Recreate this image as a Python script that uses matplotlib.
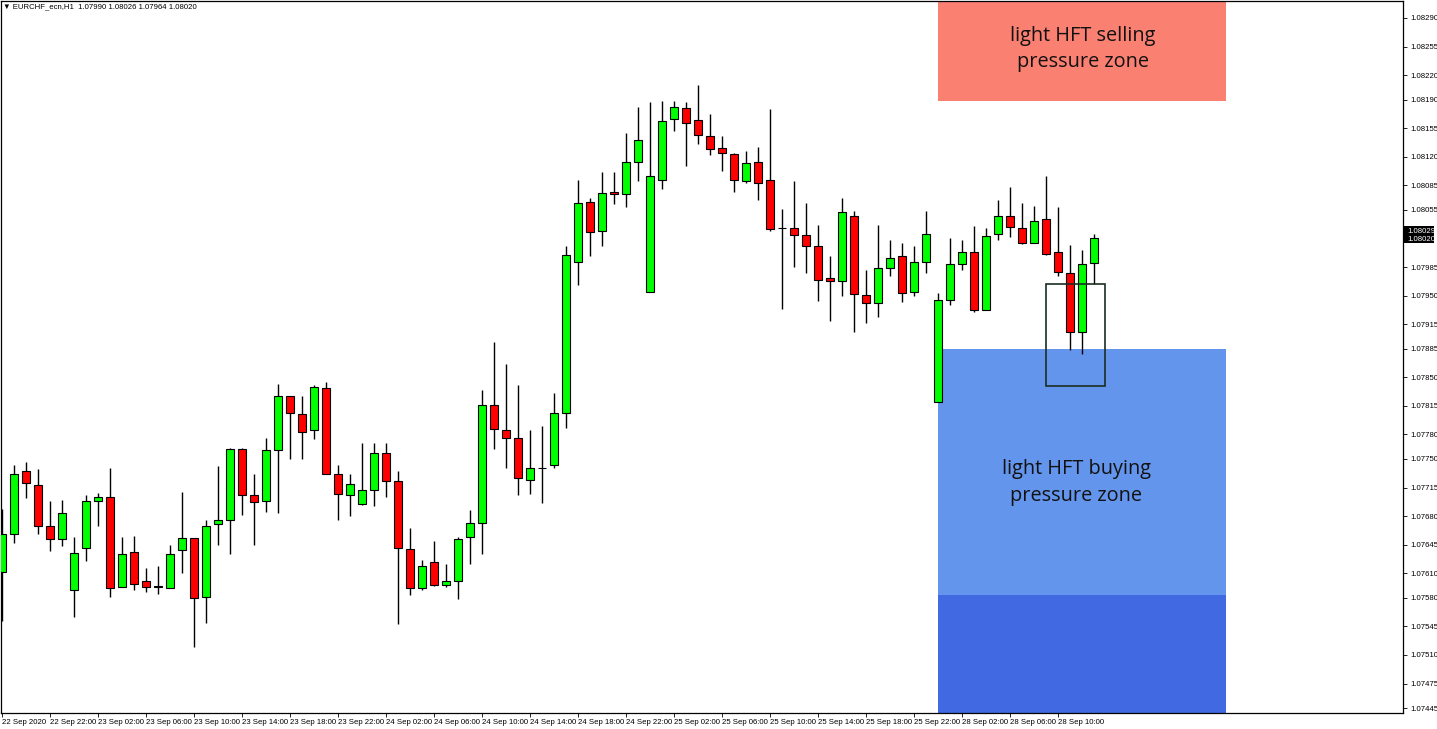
import matplotlib
matplotlib.use("Agg")
import matplotlib.pyplot as plt
import matplotlib.transforms as mtrans
from matplotlib.patches import Rectangle

plt.rcParams['font.family'] = ['Liberation Sans', 'DejaVu Sans']

# EURCHF H1 candles, 22 Sep 18:00 -> 28 Sep 13:00
opens = [1.07611, 1.07658, 1.07735, 1.07718, 1.07668, 1.07652, 1.07590, 1.07641, 1.07699, 1.07703,
         1.07593, 1.07636, 1.07600, 1.07593, 1.07592, 1.07639, 1.07653, 1.07581, 1.07670, 1.07675,
         1.07762, 1.07706, 1.07699, 1.07761, 1.07827, 1.07805, 1.07786, 1.07837, 1.07732, 1.07706,
         1.07695, 1.07712, 1.07757, 1.07723, 1.07640, 1.07592, 1.07624, 1.07596, 1.07601, 1.07655,
         1.07672, 1.07816, 1.07786, 1.07776, 1.07724, 1.07739, 1.07743, 1.07806, 1.07991, 1.08065,
         1.08029, 1.08077, 1.08074, 1.08114, 1.07954, 1.08092, 1.08166, 1.08180, 1.08165, 1.08145,
         1.08131, 1.08124, 1.08090, 1.08114, 1.08091, 1.08033, 1.08033, 1.08024, 1.08011, 1.07971,
         1.07968, 1.08048, 1.07951, 1.07941, 1.07984, 1.07998, 1.07954, 1.07991, 1.07820, 1.07945,
         1.07989, 1.08004, 1.07933, 1.08025, 1.08048, 1.08033, 1.08014, 1.08044, 1.08003, 1.07978,
         1.07905, 1.07990]
highs = [1.07689, 1.07743, 1.07746, 1.07738, 1.07699, 1.07700, 1.07655, 1.07706, 1.07708, 1.07739,
         1.07655, 1.07656, 1.07616, 1.07619, 1.07645, 1.07709, 1.07653, 1.07675, 1.07741, 1.07764,
         1.07764, 1.07731, 1.07776, 1.07842, 1.07827, 1.07827, 1.07840, 1.07844, 1.07742, 1.07731,
         1.07769, 1.07770, 1.07770, 1.07735, 1.07666, 1.07626, 1.07649, 1.07621, 1.07655, 1.07688,
         1.07835, 1.07893, 1.07866, 1.07840, 1.07785, 1.07790, 1.07831, 1.08011, 1.08092, 1.08070,
         1.08101, 1.08101, 1.08149, 1.08181, 1.08187, 1.08188, 1.08188, 1.08187, 1.08208, 1.08173,
         1.08145, 1.08125, 1.08127, 1.08132, 1.08179, 1.08056, 1.08090, 1.08063, 1.08037, 1.07998,
         1.08069, 1.08054, 1.07982, 1.08037, 1.08018, 1.08015, 1.08011, 1.08054, 1.07953, 1.08020,
         1.08018, 1.08035, 1.08033, 1.08067, 1.08083, 1.08063, 1.08060, 1.08096, 1.08058, 1.08012,
         1.08006, 1.08026]
lows = [1.07551, 1.07647, 1.07702, 1.07658, 1.07637, 1.07644, 1.07556, 1.07625, 1.07668, 1.07581,
        1.07593, 1.07590, 1.07587, 1.07585, 1.07592, 1.07610, 1.07520, 1.07549, 1.07645, 1.07633,
        1.07681, 1.07645, 1.07685, 1.07684, 1.07750, 1.07750, 1.07774, 1.07732, 1.07675, 1.07680,
        1.07694, 1.07693, 1.07704, 1.07548, 1.07584, 1.07590, 1.07595, 1.07593, 1.07578, 1.07621,
        1.07634, 1.07762, 1.07739, 1.07706, 1.07707, 1.07696, 1.07739, 1.07788, 1.07963, 1.07998,
        1.08011, 1.08062, 1.08059, 1.08090, 1.07954, 1.08081, 1.08152, 1.08109, 1.08136, 1.08122,
        1.08103, 1.08077, 1.08088, 1.08067, 1.08029, 1.07934, 1.07985, 1.07978, 1.07944, 1.07919,
        1.07949, 1.07906, 1.07916, 1.07924, 1.07974, 1.07942, 1.07949, 1.07978, 1.07820, 1.07938,
        1.07981, 1.07930, 1.07933, 1.08018, 1.08022, 1.08013, 1.08014, 1.08000, 1.07974, 1.07884,
        1.07879, 1.07964]
closes = [1.07658, 1.07732, 1.07721, 1.07668, 1.07652, 1.07684, 1.07635, 1.07699, 1.07704, 1.07592,
          1.07634, 1.07597, 1.07593, 1.07594, 1.07634, 1.07653, 1.07580, 1.07668, 1.07675, 1.07762,
          1.07706, 1.07697, 1.07761, 1.07827, 1.07806, 1.07783, 1.07838, 1.07732, 1.07707, 1.07719,
          1.07712, 1.07757, 1.07723, 1.07641, 1.07592, 1.07619, 1.07596, 1.07601, 1.07652, 1.07672,
          1.07816, 1.07787, 1.07776, 1.07727, 1.07739, 1.07739, 1.07806, 1.08000, 1.08063, 1.08028,
          1.08076, 1.08074, 1.08114, 1.08141, 1.08097, 1.08164, 1.08181, 1.08162, 1.08147, 1.08130,
          1.08125, 1.08092, 1.08112, 1.08088, 1.08032, 1.08033, 1.08024, 1.08011, 1.07969, 1.07968,
          1.08053, 1.07952, 1.07941, 1.07984, 1.07996, 1.07953, 1.07991, 1.08026, 1.07945, 1.07989,
          1.08003, 1.07933, 1.08023, 1.08048, 1.08034, 1.08015, 1.08041, 1.08001, 1.07979, 1.07906,
          1.07989, 1.08020]

x_labels = ['22 Sep 2020', '22 Sep 22:00', '23 Sep 02:00', '23 Sep 06:00', '23 Sep 10:00',
            '23 Sep 14:00', '23 Sep 18:00', '23 Sep 22:00', '24 Sep 02:00', '24 Sep 06:00',
            '24 Sep 10:00', '24 Sep 14:00', '24 Sep 18:00', '24 Sep 22:00', '25 Sep 02:00',
            '25 Sep 06:00', '25 Sep 10:00', '25 Sep 14:00', '25 Sep 18:00', '25 Sep 22:00',
            '28 Sep 02:00', '28 Sep 06:00', '28 Sep 10:00']
y_ticks = [1.08290, 1.08255, 1.08220, 1.08190, 1.08155, 1.08120, 1.08085, 1.08055,
           1.07985, 1.07950, 1.07915, 1.07885, 1.07850, 1.07815, 1.07780, 1.07750,
           1.07715, 1.07680, 1.07645, 1.07610, 1.07580, 1.07545, 1.07510, 1.07475, 1.07445]

# zones (price levels) and marked box
sell_zone = (1.08188, 1.08400)
buy_zone_light = (1.07584, 1.07885)
buy_zone_dark = (1.07400, 1.07584)
zone_x = (77.97, 101.98)
box_x = (86.95, 91.92)
box_y = (1.07839, 1.07964)
ask_price, bid_price = 1.08029, 1.08020

fig = plt.figure(figsize=(14.37, 7.29), dpi=100)
ax = fig.add_axes([1 / 1437, 16 / 729, 1402 / 1437, 712 / 729])

# zones
ax.add_patch(Rectangle((zone_x[0], sell_zone[0]), zone_x[1] - zone_x[0], sell_zone[1] - sell_zone[0],
                       facecolor='#FA8072', edgecolor='none', zorder=1))
ax.add_patch(Rectangle((zone_x[0], buy_zone_light[0]), zone_x[1] - zone_x[0],
                       buy_zone_light[1] - buy_zone_light[0],
                       facecolor='#6495ED', edgecolor='none', zorder=1))
ax.add_patch(Rectangle((zone_x[0], buy_zone_dark[0]), zone_x[1] - zone_x[0],
                       buy_zone_dark[1] - buy_zone_dark[0],
                       facecolor='#4169E1', edgecolor='none', zorder=1))

# candles
xs = list(range(len(opens)))
ax.vlines(xs, lows, highs, color='black', linewidth=1.0, zorder=2)
for i in xs:
    o, c = opens[i], closes[i]
    if c > o:
        fc = '#00FF00'
    elif c < o:
        fc = '#FF0000'
    else:
        fc = 'black'
    ax.bar(i, abs(c - o), bottom=min(o, c), width=0.64, color=fc,
           edgecolor='black', linewidth=0.8, zorder=3)

ax.add_patch(Rectangle((box_x[0], box_y[0]), box_x[1] - box_x[0], box_y[1] - box_y[0],
                       facecolor='none', edgecolor='#1b2e22', linewidth=1.2, zorder=4))

ax.text(90.06, 1.08252, 'light HFT selling\npressure zone', ha='center', va='center',
        fontsize=14.3, family='Open Sans', color='#111111', linespacing=1.45, zorder=5)
ax.text(89.5, 1.07721, 'light HFT buying\npressure zone', ha='center', va='center',
        fontsize=14.3, family='Open Sans', color='#111111', linespacing=1.45, zorder=5)

ax.set_xlim(-0.108, 116.73)
ax.set_ylim(1.074389, 1.083108)

ax.set_xticks(list(range(0, 4 * len(x_labels), 4)))
ax.set_xticklabels(x_labels, ha='left')
ax.yaxis.tick_right()
ax.set_yticks(y_ticks)
ax.set_yticklabels([f'{v:.5f}' for v in y_ticks])
ax.tick_params(axis='both', direction='out', length=3, width=0.6, labelsize=5.6, colors='black')
ax.tick_params(axis='x', pad=1.5)
ax.tick_params(axis='y', pad=2)
for s in ax.spines.values():
    s.set_linewidth(0.9)
    s.set_color('black')

# current price labels
trans = mtrans.blended_transform_factory(ax.transAxes, ax.transData)
ax.add_patch(Rectangle((1.0, 1.08014), 31 / 1402, 1.08035 - 1.08014, transform=trans,
                       facecolor='black', edgecolor='none', clip_on=False, zorder=6))
ax.text(1.0 + 4 / 1402, ask_price, f'{ask_price:.5f}', transform=trans, color='white',
        fontsize=5.6, va='center', ha='left', zorder=7)
ax.text(1.0 + 4 / 1402, bid_price - 0.00001, f'{bid_price:.5f}', transform=trans, color='white',
        fontsize=5.6, va='center', ha='left', zorder=7)

fig.text(3 / 1437, 1 - 7 / 729, '\u25BC EURCHF_ecn,H1  1.07990 1.08026 1.07964 1.08020',
         fontsize=5.6, va='center', ha='left')

fig.savefig('out.png', dpi=100)
